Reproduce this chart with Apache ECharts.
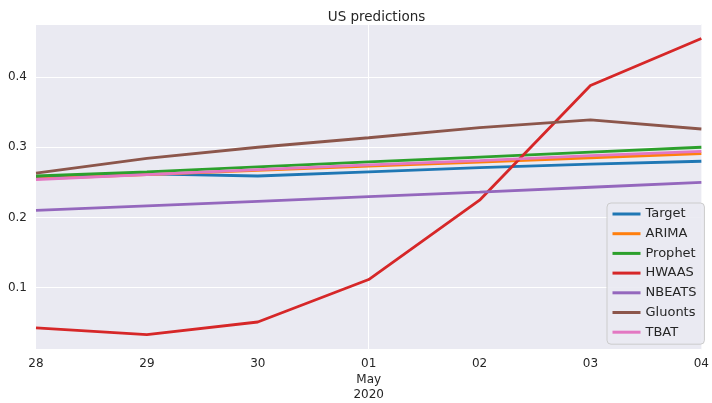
<!DOCTYPE html>
<html>
<head>
<meta charset="utf-8">
<script src="https://cdn.jsdelivr.net/npm/echarts@6/dist/echarts.min.js"></script>
<style>html,body{margin:0;padding:0;background:#fff}#c{width:712px;height:403px}</style>
</head>
<body>
<div id="c"></div>
<script>
var categories = ['28', '29', '30', '01\nMay\n2020', '02', '03', '04'];
var seriesNames = ['Target', 'ARIMA', 'Prophet', 'HWAAS', 'NBEATS', 'Gluonts', 'TBAT'];
var target  = [0.257, 0.262, 0.259, 0.265, 0.271, 0.276, 0.280];
var arima   = [0.255, 0.261, 0.267, 0.273, 0.279, 0.285, 0.291];
var prophet = [0.259, 0.265, 0.272, 0.279, 0.286, 0.293, 0.300];
var hwaas   = [0.0425, 0.033, 0.051, 0.1115, 0.2245, 0.388, 0.455];
var nbeats  = [0.210, 0.2165, 0.223, 0.2295, 0.236, 0.243, 0.250];
var gluonts = [0.263, 0.284, 0.300, 0.3135, 0.328, 0.339, 0.326];
var tbat    = [0.254, 0.261, 0.268, 0.275, 0.281, 0.288, 0.294];
var colors = ['#1f77b4', '#ff7f0e', '#2ca02c', '#d62728', '#9467bd', '#8c564b', '#e377c2'];
var allData = [target, arima, prophet, hwaas, nbeats, gluonts, tbat];

var font = 'DejaVu Sans';
var chart = echarts.init(document.getElementById('c'), null, {renderer: 'canvas'});
var series = seriesNames.map(function (n, i) {
  return {
    name: n, type: 'line', data: allData[i], symbol: 'none', showSymbol: false,
    lineStyle: {width: 2.8, color: colors[i]}, itemStyle: {color: colors[i]},
    z: 2 + i
  };
});
chart.setOption({
  animation: false,
  backgroundColor: '#ffffff',
  title: {
    text: 'US predictions', left: 371.5, textAlign: 'center', top: 5,
    textStyle: {fontFamily: font, fontSize: 13.5, fontWeight: 'normal', color: '#262626'}
  },
  grid: {left: 36, right: 5, top: 24, bottom: 52, show: true, backgroundColor: '#EAEAF2', borderWidth: 0},
  legend: {
    orient: 'vertical', left: 607, top: 203, data: seriesNames,
    itemWidth: 28, itemHeight: 14, itemGap: 5.7,
    padding: [4, 8, 5, 4],
    itemStyle: {opacity: 0, borderWidth: 0},
    lineStyle: {width: 3},
    backgroundColor: 'rgba(234,234,242,0.9)', borderColor: '#cccccc', borderWidth: 1, borderRadius: 4,
    textStyle: {fontFamily: font, fontSize: 13, color: '#262626', lineHeight: 14}
  },
  xAxis: {
    type: 'category', data: categories, boundaryGap: false,
    axisLine: {show: false}, axisTick: {show: false},
    axisLabel: {fontFamily: font, fontSize: 12, color: '#262626', margin: 7, lineHeight: 15.5, interval: 0,
      align: 'center'},
    splitLine: {show: true, interval: function (idx) { return idx === 3; }, lineStyle: {color: '#ffffff', width: 1}}
  },
  yAxis: {
    type: 'value', min: 0.0118, max: 0.4756,
    axisLine: {show: false}, axisTick: {show: false},
    axisLabel: {fontFamily: font, fontSize: 12, color: '#262626', margin: 9, showMinLabel: false, showMaxLabel: false,
      formatter: function (v) { return (Math.round(v * 10) / 10).toFixed(1); }},
    splitLine: {show: true, lineStyle: {color: '#ffffff', width: 1}}
  },
  series: series
});
</script>
</body>
</html>
